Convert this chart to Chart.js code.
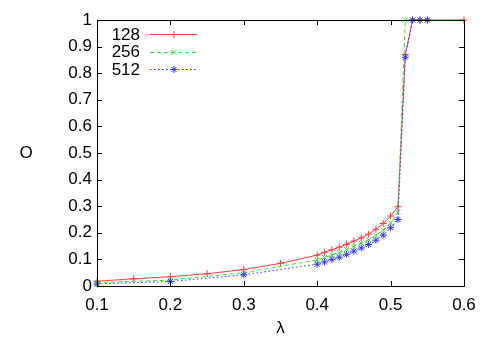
<!DOCTYPE html>
<html>
<head>
<meta charset="utf-8">
<script src="https://cdn.jsdelivr.net/npm/chart.js@4/dist/chart.umd.min.js"></script>
<style>
html,body{margin:0;padding:0;background:#fff;}
#wrap{width:491px;height:343px;}
</style>
</head>
<body>
<div id="wrap"><canvas id="c" width="491" height="343"></canvas></div>
<script>
// ---- data ----
const seriesLabels = ['128', '256', '512'];
const lambda128 = [0.1, 0.15, 0.2, 0.25, 0.3, 0.35, 0.4, 0.41, 0.42, 0.43, 0.44, 0.45, 0.46, 0.47, 0.48, 0.49, 0.5, 0.51, 0.52, 0.53, 0.54, 0.55, 0.6];
const order128  = [0.018, 0.027, 0.035, 0.046, 0.062, 0.085, 0.116, 0.127, 0.136, 0.146, 0.157, 0.169, 0.181, 0.195, 0.213, 0.235, 0.263, 0.298, 0.87, 1, 1, 1, 1];
const lambda256 = [0.1, 0.2, 0.3, 0.4, 0.41, 0.42, 0.43, 0.44, 0.45, 0.46, 0.47, 0.48, 0.49, 0.5, 0.51, 0.52, 0.53, 0.54, 0.55];
const order256  = [0.013, 0.022, 0.05, 0.098, 0.107, 0.116, 0.126, 0.137, 0.149, 0.161, 0.174, 0.19, 0.21, 0.237, 0.277, 1, 1, 1, 1];
const lambda512 = [0.1, 0.2, 0.3, 0.4, 0.41, 0.42, 0.43, 0.44, 0.45, 0.46, 0.47, 0.48, 0.49, 0.5, 0.51, 0.52, 0.53, 0.54, 0.55];
const order512  = [0.008, 0.017, 0.042, 0.082, 0.09, 0.1, 0.108, 0.119, 0.131, 0.143, 0.156, 0.172, 0.191, 0.219, 0.25, 0.86, 1, 1, 1];
const xTickValues = [0.1, 0.2, 0.3, 0.4, 0.5, 0.6];
const xTickLabels = ['0.1', '0.2', '0.3', '0.4', '0.5', '0.6'];
const yTickValues = [0, 0.1, 0.2, 0.3, 0.4, 0.5, 0.6, 0.7, 0.8, 0.9, 1];
const yTickLabels = ['0', '0.1', '0.2', '0.3', '0.4', '0.5', '0.6', '0.7', '0.8', '0.9', '1'];
const xTitle = 'λ';
const yTitle = 'O';

const FONT = '"Liberation Sans", Arial, Helvetica, sans-serif';
const toPts = (xs, ys) => xs.map((x, i) => ({x: x, y: ys[i]}));

const styles = [
  {color: 'rgb(255,60,60)', dash: [], point: 'cross', order: 3},
  {color: 'rgb(50,225,50)', dash: [4, 3], point: 'crossRot', order: 2},
  {color: 'rgb(50,50,255)', dash: [1.5, 2.5], point: 'star', order: 1}
];
const pts = [toPts(lambda128, order128), toPts(lambda256, order256), toPts(lambda512, order512)];

const datasets = pts.map((d, i) => ({
  label: seriesLabels[i],
  data: d,
  borderColor: styles[i].color,
  backgroundColor: styles[i].color,
  borderWidth: 1,
  borderDash: styles[i].dash,
  pointStyle: styles[i].point,
  pointRadius: 3.5,
  pointBorderWidth: 1,
  pointBorderColor: styles[i].color,
  tension: 0,
  fill: false,
  clip: false,
  order: styles[i].order
}));

function drawMarker(ctx, style, x, y, r) {
  ctx.beginPath();
  if (style === 'cross' || style === 'star') {
    ctx.moveTo(x - r, y); ctx.lineTo(x + r, y);
    ctx.moveTo(x, y - r); ctx.lineTo(x, y + r);
  }
  if (style === 'crossRot' || style === 'star') {
    const k = r * 0.7071;
    ctx.moveTo(x - k, y - k); ctx.lineTo(x + k, y + k);
    ctx.moveTo(x - k, y + k); ctx.lineTo(x + k, y - k);
  }
  ctx.stroke();
}

const framePlugin = {
  id: 'frame',
  afterDatasetsDraw(chart) {
    const ctx = chart.ctx;
    const a = chart.chartArea;
    const xs = chart.scales.x, ys = chart.scales.y;
    ctx.save();
    ctx.strokeStyle = '#000';
    ctx.lineWidth = 1;
    ctx.setLineDash([]);
    ctx.strokeRect(Math.round(a.left) + 0.5, Math.round(a.top) + 0.5,
                   Math.round(a.right - a.left), Math.round(a.bottom - a.top));
    const tl = 5;
    ctx.beginPath();
    xTickValues.forEach(v => {
      const px = Math.round(xs.getPixelForValue(v)) + 0.5;
      ctx.moveTo(px, a.bottom); ctx.lineTo(px, a.bottom - tl);
      ctx.moveTo(px, a.top); ctx.lineTo(px, a.top + tl);
    });
    yTickValues.forEach(v => {
      const py = Math.round(ys.getPixelForValue(v)) + 0.5;
      ctx.moveTo(a.left, py); ctx.lineTo(a.left + tl, py);
      ctx.moveTo(a.right, py); ctx.lineTo(a.right - tl, py);
    });
    ctx.stroke();
    ctx.fillStyle = '#000';
    ctx.font = '17px ' + FONT;
    ctx.textAlign = 'center';
    ctx.textBaseline = 'middle';
    ctx.fillText(yTitle, 26, (a.top + a.bottom) / 2 + 0.5);
    ctx.fillText(xTitle, (a.left + a.right) / 2, 328);
    const rows = [34, 51.5, 69];
    chart.data.datasets.forEach((ds, i) => {
      const y = rows[i];
      ctx.textAlign = 'right';
      ctx.fillStyle = '#000';
      ctx.fillText(ds.label, 140, y + 1);
      ctx.strokeStyle = ds.borderColor;
      ctx.lineWidth = 1;
      ctx.setLineDash(ds.borderDash);
      ctx.beginPath();
      ctx.moveTo(150, Math.round(y) + 0.5); ctx.lineTo(197, Math.round(y) + 0.5);
      ctx.stroke();
      ctx.setLineDash([]);
      drawMarker(ctx, ds.pointStyle, 174, Math.round(y) + 0.5, 3.5);
    });
    ctx.restore();
  }
};

new Chart(document.getElementById('c'), {
  type: 'line',
  data: {datasets: datasets},
  options: {
    responsive: false,
    animation: false,
    devicePixelRatio: 1,
    layout: {padding: {top: 20, right: 27, left: 0, bottom: 0}},
    plugins: {legend: {display: false}, tooltip: {enabled: false}},
    elements: {line: {borderCapStyle: 'butt'}},
    scales: {
      x: {
        type: 'linear',
        min: 0.1, max: 0.6,
        grid: {display: false, drawTicks: false},
        border: {display: false},
        afterBuildTicks: s => { s.ticks = xTickValues.map(v => ({value: v})); },
        afterFit: s => { s.height = 57; },
        ticks: {
          autoSkip: false,
          maxRotation: 0,
          padding: 9,
          color: '#000',
          font: {family: FONT, size: 17},
          callback: (v, i) => xTickLabels[i]
        }
      },
      y: {
        type: 'linear',
        min: 0, max: 1,
        grid: {display: false, drawTicks: false},
        border: {display: false},
        afterBuildTicks: s => { s.ticks = yTickValues.map(v => ({value: v})); },
        afterFit: s => { s.width = 97; },
        ticks: {
          autoSkip: false,
          padding: 5,
          color: '#000',
          font: {family: FONT, size: 17},
          callback: (v, i) => yTickLabels[i]
        }
      }
    }
  },
  plugins: [framePlugin]
});
</script>
</body>
</html>
